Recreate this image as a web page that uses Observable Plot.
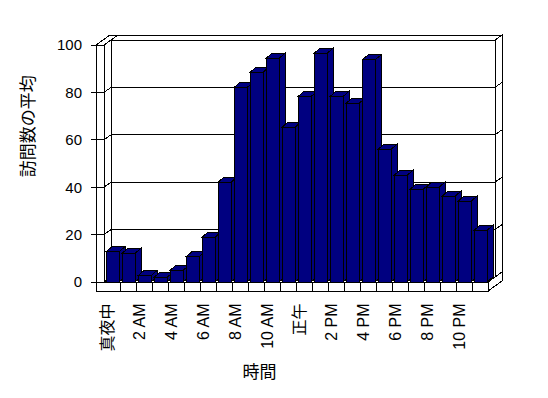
<!DOCTYPE html>
<html><head><meta charset="utf-8">
<script src="https://cdn.jsdelivr.net/npm/d3@7"></script>
<script src="https://cdn.jsdelivr.net/npm/@observablehq/plot@0.6"></script>
<style>
html,body{margin:0;padding:0;background:#fff;}
#chart svg{display:block;}
#chart svg polygon,#chart svg line,#chart svg rect{shape-rendering:crispEdges;}
#chart svg text{font-family:'Liberation Sans','Noto Sans CJK JP',sans-serif;}
</style></head>
<body><div id="chart"></div>
<script>
// ---- data ----
const hours = [0,1,2,3,4,5,6,7,8,9,10,11,12,13,14,15,16,17,18,19,20,21,22,23];
const visits = [12.8,12.1,2.7,2.0,4.9,10.7,18.9,42.1,82.1,88.5,94.4,65.3,78.3,96.5,78.3,75.4,93.7,56.0,45.0,39.1,40.0,36.2,34.1,21.8];
const tickHours = [0,2,4,6,8,10,12,14,16,18,20,22];
const tickLabels = ["真夜中","2 AM","4 AM","6 AM","8 AM","10 AM","正午","2 PM","4 PM","6 PM","8 PM","10 PM"];
const yTicks = [0,20,40,60,80,100];
const xTitle = "時間";
const yTitle = "訪問数の平均";

const table = hours.map((h, i) => ({hour: h, value: visits[i]}));

// ---- styles ----
const INK = "#000", BAR = "#000080", WALL_FILL = "#fff";
const DX = 7, DY = -5;      // wall depth step
const BDX = 6, BDY = -5;    // bar depth
const WALL = 8, FLOOR = 9, TICK = 5;
const INSET_L = 2, INSET_R = 1;

function poly(g, pts, fill) {
  g.append("polygon")
    .attr("points", pts.map(p => p.join(",")).join(" "))
    .attr("fill", fill).attr("stroke", INK).attr("stroke-width", 1);
}
function seg(g, x1, y1, x2, y2) {
  g.append("line").attr("x1", x1).attr("y1", y1).attr("x2", x2).attr("y2", y2)
    .attr("stroke", INK).attr("stroke-width", 1);
}
function bandOf(x) {
  return x.bandwidth ? x.bandwidth() : (x(hours[1]) - x(hours[0]));
}

function chartFrame(index, scales) {
  const {x, y} = scales;
  const bw = bandOf(x);
  const X0 = x(hours[0]), X1 = x(hours[hours.length - 1]) + bw;
  const Y0 = y(0), YT = y(100);
  const g = d3.create("svg:g");
  // back wall: top, right side, inner face
  poly(g, [[X0+DX,YT+DY],[X1+DX,YT+DY],[X1+2*DX,YT+2*DY],[X0+2*DX,YT+2*DY]], WALL_FILL);
  poly(g, [[X1+DX,YT+DY],[X1+2*DX,YT+2*DY],[X1+2*DX,Y0+2*DY],[X1+DX,Y0+DY]], WALL_FILL);
  poly(g, [[X0+DX,YT+DY],[X1+DX,YT+DY],[X1+DX,Y0+DY],[X0+DX,Y0+DY]], WALL_FILL);
  // left wall: top, inner face
  poly(g, [[X0-WALL,YT],[X0,YT],[X0+2*DX,YT+2*DY],[X0-WALL+2*DX,YT+2*DY]], WALL_FILL);
  poly(g, [[X0,YT],[X0+DX,YT+DY],[X0+DX,Y0+DY],[X0,Y0]], WALL_FILL);
  // gridlines
  for (const v of yTicks) {
    if (v === yTicks[0] || v === yTicks[yTicks.length - 1]) continue;
    const yy = y(v);
    seg(g, X0, yy, X0+DX, yy+DY);
    seg(g, X0+DX, yy+DY, X1+DX, yy+DY);
    seg(g, X1+DX, yy+DY, X1+2*DX, yy+2*DY);
  }
  // floor: top, right side
  poly(g, [[X0,Y0],[X1,Y0],[X1+DX,Y0+DY],[X0+DX,Y0+DY]], WALL_FILL);
  poly(g, [[X1,Y0],[X1+2*DX,Y0+2*DY],[X1+2*DX,Y0+FLOOR+2*DY],[X1,Y0+FLOOR]], WALL_FILL);
  // front L-shaped face (left wall + floor)
  poly(g, [[X0-WALL,YT],[X0,YT],[X0,Y0],[X1,Y0],[X1,Y0+FLOOR],[X0-WALL,Y0+FLOOR]], WALL_FILL);
  for (let i = 1; i < hours.length; i++) {
    const xx = x(hours[i]);
    seg(g, xx, Y0, xx, Y0 + FLOOR);
  }
  for (const v of yTicks) {
    const yy = y(v);
    seg(g, X0 - WALL - TICK, yy, X0, yy);
  }
  return g.node();
}

function barDepth(index, scales) {
  const {x, y} = scales;
  const bw = bandOf(x);
  const g = d3.create("svg:g");
  const geo = table.map(d => ({
    xl: x(d.hour) + INSET_L, xr: x(d.hour) + bw - INSET_R, yt: y(d.value), yb: y(0)
  }));
  for (const b of geo) poly(g, [[b.xr,b.yt],[b.xr+BDX,b.yt+BDY],[b.xr+BDX,b.yb+BDY],[b.xr,b.yb]], BAR);
  for (const b of geo) poly(g, [[b.xl,b.yt],[b.xr,b.yt],[b.xr+BDX,b.yt+BDY],[b.xl+BDX,b.yt+BDY]], BAR);
  return g.node();
}

const chart = Plot.plot({
  width: 548,
  height: 398,
  marginLeft: 102.5,
  marginRight: 59.5,
  marginTop: 45,
  marginBottom: 116,
  style: {background: "#fff", fontFamily: "'Liberation Sans','Noto Sans CJK JP',sans-serif", color: "#000"},
  x: {type: "band", domain: hours, padding: 0, axis: null},
  y: {domain: [0, 100], axis: null},
  marks: [
    chartFrame,
    barDepth,
    Plot.barY(table, {x: "hour", y: "value", fill: BAR, stroke: INK, strokeWidth: 1, insetLeft: INSET_L, insetRight: INSET_R}),
    Plot.text(yTicks, {y: d => d, text: d => String(d), frameAnchor: "left", textAnchor: "end", dx: -21, fontSize: 15, fill: INK}),
    Plot.text(tickHours, {x: d => d, text: (d, i) => tickLabels[i], frameAnchor: "bottom", rotate: -90, textAnchor: "end", dy: 21, fontSize: 16, fill: INK}),
    Plot.text([xTitle], {text: d => d, frameAnchor: "bottom", dx: -36.5, dy: 95, fontSize: 17, fill: INK}),
    Plot.text([yTitle], {text: d => d, frameAnchor: "left", rotate: -90, dx: -74.5, dy: 13.2, fontSize: 17, fill: INK})
  ]
});
document.getElementById("chart").appendChild(chart);
</script>
</body></html>
